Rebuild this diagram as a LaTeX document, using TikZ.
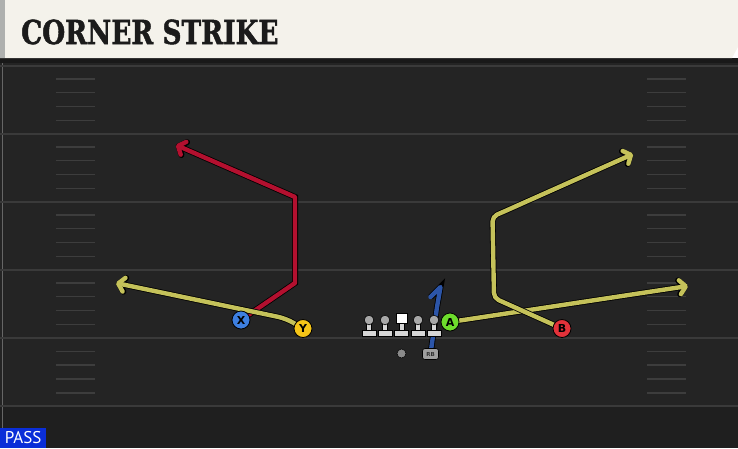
\documentclass[tikz,border=0pt]{standalone}
\usepackage{fontspec}
\usetikzlibrary{arrows.meta}
\newfontfamily\titlefont{DejaVu Serif}[BoldFeatures={FakeBold=1.6}]
\newfontfamily\labelfont{DejaVu Sans}
\newfontfamily\passfont{PT Sans}

\definecolor{banner}{HTML}{F4F2EB}
\definecolor{bannerstrip}{HTML}{AEB0AE}
\definecolor{titleblack}{HTML}{1B1B1B}
\definecolor{turf}{HTML}{242424}
\definecolor{turfdark}{HTML}{1F1F1F}
\definecolor{linegray}{HTML}{3A3A3A}
\definecolor{hashgray}{HTML}{3D3D3D}
\definecolor{redroute}{HTML}{B3102F}
\definecolor{yellowroute}{HTML}{C5C25A}
\definecolor{blueroute}{HTML}{2C55A8}
\definecolor{xblue}{HTML}{3D7FE0}
\definecolor{yyellow}{HTML}{F5C518}
\definecolor{agreen}{HTML}{6DDC2C}
\definecolor{bred}{HTML}{E3323A}
\definecolor{lmgray}{HTML}{D6D6D6}
\definecolor{headgray}{HTML}{A8A8A8}
\definecolor{qbgray}{HTML}{8A8A8A}
\definecolor{passblue}{HTML}{0A2ED8}

\pgfdeclarelayer{field}
\pgfdeclarelayer{routes}
\pgfsetlayers{field,routes,main}

\tikzset{x=1pt,y=-1pt,
    player/.style={circle,draw=black,line width=0.8pt,minimum size=18pt,inner sep=0pt,
        font=\labelfont\bfseries\fontsize{11}{11}\selectfont,text=black},
    route/.style={line width=4.4pt,line join=round,line cap=round,
        preaction={draw=black,line width=6pt}},
    tip/.style={-{Straight Barb[round,length=6pt,width=14pt]}},
    hash/.style={draw=hashgray,line width=1.4pt},
    yardline/.style={draw=linegray,line width=2pt},
    rbbox/.style={rectangle,rounded corners=2.5pt,fill=headgray!110!white,draw=black,line width=0.6pt,
        minimum width=16pt,minimum height=11pt,inner sep=0pt,
        font=\labelfont\bfseries\fontsize{5.5}{5.5}\selectfont,text=black!80},
    }

\begin{document}
\begin{tikzpicture}
\useasboundingbox (0,0) rectangle (738,448);

\begin{pgfonlayer}{field}
\fill[turf] (0,58) rectangle (738,448);
\fill[turfdark] (0,407) rectangle (738,448);
\fill[black!90] (0,58) rectangle (738,63);
\draw[black!60,line width=1pt] (2,63) -- (2,448);
\foreach \ly in {65.5,133.5,201.5,269.5,338,406}
    \draw[yardline] (0,\ly) -- (738,\ly);
\foreach \ly in {65.5,133.5,201.5,269.5,338}
    \foreach \off in {13.5,27,41,55} {
        \draw[hash] (56,\ly+\off) -- (95,\ly+\off);
        \draw[hash] (647,\ly+\off) -- (686,\ly+\off);
    }
% title banner
\fill[banner] (0,0) -- (738,0) -- (738,47) -- (732,58) -- (0,58) -- cycle;
\fill[bannerstrip] (0,0) rectangle (5,58);
\end{pgfonlayer}

\node[anchor=base west,inner sep=0pt,text=titleblack] (title) at (21,44)
    {\scalebox{0.8}[1]{\titlefont\bfseries\fontsize{33}{33}\selectfont CORNER STRIKE}};

% receivers
\node[player,fill=xblue] (x) at (241,320) {X};
\node[player,fill=yyellow] (y) at (303,328.5) {Y};
\node[player,fill=agreen] (a) at (450,322) {A};
\node[player,fill=bred] (b) at (562,328.5) {B};

% backfield
\node[circle,fill=qbgray,draw=black,line width=0.5pt,minimum size=9pt,inner sep=0pt] (qb) at (401.5,353.5) {};
\node[rbbox] (rb) at (430.5,354) {RB};

% line
\foreach \lx in {369,385,418,434} {
    \draw[fill=lmgray,line width=0.6pt] (\lx-7,330) rectangle (\lx+7,336);
    \draw[fill=lmgray,line width=0.6pt] (\lx-2.5,322) rectangle (\lx+2.5,330);
    \draw[fill=headgray,line width=0.6pt] (\lx,320) circle (4.8);
}
\draw[fill=lmgray,line width=0.6pt] (394.5,330) rectangle (408.5,336);
\draw[fill=lmgray,line width=0.6pt] (399,322) rectangle (404,330);
\draw[fill=white,line width=0.6pt] (396,313.5) rectangle (407,323.5);

\coordinate (xend) at (176,145);
\coordinate (yend) at (116,283);
\coordinate (aend) at (688,286);
\coordinate (bend) at (633,154);

\begin{pgfonlayer}{routes}
\draw[route,draw=redroute,tip] (x.center) -- (295,283) -- (295,197) -- (xend);
\draw[route,draw=yellowroute,tip,rounded corners=8pt] (y.center) -- (286,318.5) -- (yend);
\draw[route,draw=yellowroute,tip] (a.center) -- (aend);
\draw[route,draw=yellowroute,tip,rounded corners=5pt] (b.center) -- (494,298) -- (492.5,216.5) -- (503,212) -- (bend);
\draw[route,draw=blueroute] (rb.center) -- (437,307) -- (440.5,287) -- (430.5,297);
\end{pgfonlayer}

\node[fill=passblue,text=white,anchor=south west,minimum width=46pt,minimum height=20pt,inner sep=0pt,
    font=\passfont\fontsize{17}{17}\selectfont] (pass) at (0,448) {PASS};
\end{tikzpicture}
\end{document}
